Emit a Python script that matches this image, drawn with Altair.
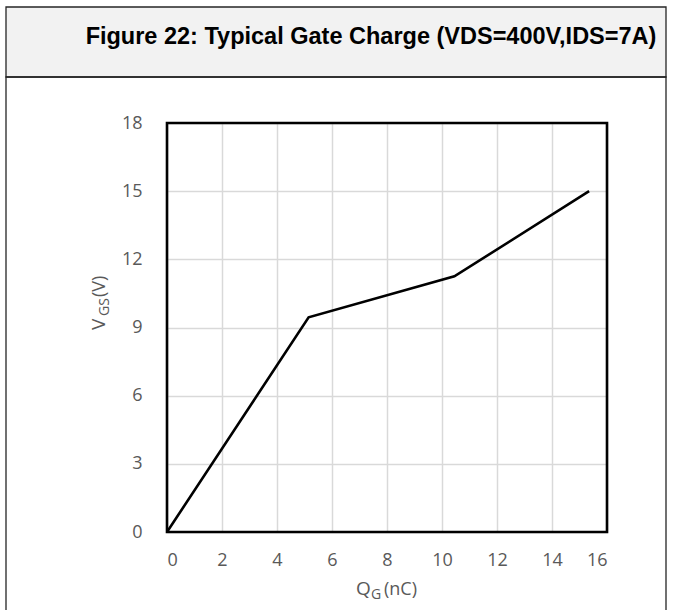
import altair as alt
import pandas as pd

# Data
qg = [0.0, 5.15, 10.45, 15.35]
vgs = [0.0, 9.45, 11.25, 15.0]
x_ticks = [0, 2, 4, 6, 8, 10, 12, 14, 16]
y_ticks = [0, 3, 6, 9, 12, 15, 18]
title_text = "Figure 22: Typical Gate Charge (VDS=400V,IDS=7A)"

W, H = 440, 409
FONT = "Open Sans"
GRAY = "#595959"

df = pd.DataFrame({"qg": qg, "vgs": vgs})
one = alt.Data(values=[{"t": title_text}])

header = alt.Chart(one).mark_rect(fill="#f2f2f2", stroke="#262626", strokeWidth=1.3).encode(
    x=alt.value(-161), x2=alt.value(499), y=alt.value(-116), y2=alt.value(-46))
frame = alt.Chart(one).mark_rect(fillOpacity=0, stroke="#262626", strokeWidth=1.3).encode(
    x=alt.value(-161), x2=alt.value(499), y=alt.value(-46), y2=alt.value(600))
title = alt.Chart(one).mark_text(font="Liberation Sans", fontWeight="bold", fontSize=23.5,
                                 align="center", baseline="middle", color="black").encode(
    x=alt.value(204), y=alt.value(-86), text="t:N")

base = alt.Chart(df).encode(
    x=alt.X("qg:Q", scale=alt.Scale(domain=[0, 16], nice=False),
            axis=alt.Axis(values=x_ticks, title=None, grid=True, domain=False, ticks=False,
                          labelPadding=19, labelFontSize=18, labelFont=FONT, labelColor=GRAY,
                          gridColor="#d9d9d9", gridWidth=1.5)),
    y=alt.Y("vgs:Q", scale=alt.Scale(domain=[0, 18], nice=False),
            axis=alt.Axis(values=y_ticks, title=None, grid=True, domain=False, ticks=False,
                          labelPadding=25, labelFontSize=18, labelFont=FONT, labelColor=GRAY,
                          gridColor="#d9d9d9", gridWidth=1.5)),
)
line = base.mark_line(color="black", strokeWidth=2.6)

border = alt.Chart(one).mark_rect(fillOpacity=0, stroke="black", strokeWidth=2.6).encode(
    x=alt.value(0), x2=alt.value(W), y=alt.value(0), y2=alt.value(H))

def txt(s, size, x, y, angle=0):
    return alt.Chart(alt.Data(values=[{"t": s}])).mark_text(
        font=FONT, fontSize=size, color=GRAY, align="left", baseline="alphabetic", angle=angle
    ).encode(x=alt.value(x), y=alt.value(y), text="t:N")

xt = txt("Q", 19, 189, 472) + txt("G", 14, 204, 476) + txt("(nC)", 18, 217, 472)
yt = txt("V", 19, -62, 207, 270) + txt("GS", 14, -58, 193, 270) + txt("(V)", 18, -62, 174, 270)

chart = alt.layer(header, frame, title, line, border, xt, yt).properties(
    width=W, height=H,
    autosize=alt.AutoSizeParams(type="none"),
    padding={"left": 167, "top": 123, "right": 67, "bottom": 78},
).configure_view(stroke=None)

chart.save("out.html", embed_options={"renderer": "svg", "actions": False})
